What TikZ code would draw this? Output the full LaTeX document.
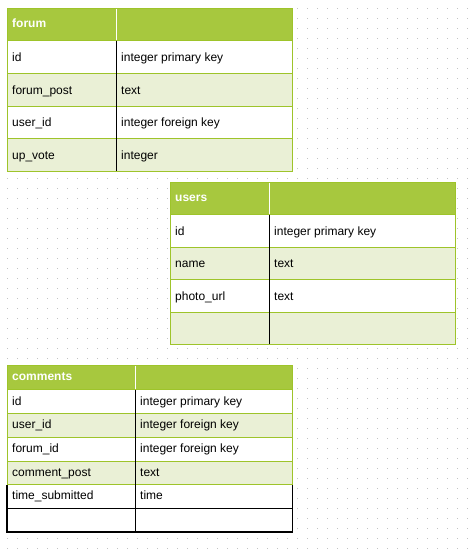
\documentclass[tikz,border=0pt]{standalone}
\usepackage{fontspec}
\setmainfont{Liberation Sans}
\definecolor{hdr}{RGB}{167,200,62}
\definecolor{lite}{RGB}{234,240,214}
\definecolor{edge}{RGB}{158,196,42}
\definecolor{dotc}{RGB}{195,195,195}
\tikzset{
  txt/.style={anchor=base west, inner sep=0pt, font=\fontsize{12}{14}\selectfont, text=black},
  htxt/.style={anchor=base west, inner sep=0pt, font=\fontsize{12}{14}\selectfont\bfseries, text=white},
  gline/.style={draw=edge, line width=1pt},
  kline/.style={draw=black, line width=1.1pt},
  wline/.style={draw=white, line width=1pt},
}
\begin{document}
\begin{tikzpicture}[x=1pt,y=-1pt]
\useasboundingbox (0,0) rectangle (470,555);
\fill[white] (0,0) rectangle (470,555);
\foreach \i in {0,...,46}{\foreach \j in {0,...,54}{\fill[dotc] ({7+10*\i},{8+10*\j}) rectangle +(1,1);}}

% ---------- forum ----------
\fill[hdr] (7,8) rectangle (292.5,40.7);
\fill[white] (7,40.7) rectangle (292.5,73.3);
\fill[lite] (7,73.3) rectangle (292.5,106);
\fill[white] (7,106) rectangle (292.5,138.7);
\fill[lite] (7,138.7) rectangle (292.5,171);
\foreach \y in {40.7,73.3,106,138.7} \draw[gline] (7,\y) -- (292.5,\y);
\draw[gline] (7,8) rectangle (292.5,171);
\draw[wline] (116.7,8.5) -- (116.7,40.2);
\draw[kline] (116.7,41.2) -- (116.7,170.5);
\node[htxt] (forumH) at (12,27.7) {forum};
\node[txt] (f1a) at (12,61.5) {id};
\node[txt] (f1b) at (121,61.5) {integer primary key};
\node[txt] (f2a) at (12,94.2) {forum\_post};
\node[txt] (f2b) at (121,94.2) {text};
\node[txt] (f3a) at (12,126.9) {user\_id};
\node[txt] (f3b) at (121,126.9) {integer foreign key};
\node[txt] (f4a) at (12,159.4) {up\_vote};
\node[txt] (f4b) at (121,159.4) {integer};

% ---------- users ----------
\fill[hdr] (170,182.3) rectangle (455.3,214.7);
\fill[white] (170,214.7) rectangle (455.3,247);
\fill[lite] (170,247) rectangle (455.3,279.5);
\fill[white] (170,279.5) rectangle (455.3,312);
\fill[lite] (170,312) rectangle (455.3,344.3);
\foreach \y in {214.7,247,279.5,312} \draw[gline] (170,\y) -- (455.3,\y);
\draw[gline] (170,182.3) rectangle (455.3,344.3);
\draw[wline] (269.3,182.8) -- (269.3,214.2);
\draw[kline] (269.3,215.2) -- (269.3,343.8);
\node[htxt] (usersH) at (175,201.7) {users};
\node[txt] (u1a) at (175,235.2) {id};
\node[txt] (u1b) at (274,235.2) {integer primary key};
\node[txt] (u2a) at (175,267.6) {name};
\node[txt] (u2b) at (274,267.6) {text};
\node[txt] (u3a) at (175,300.1) {photo\_url};
\node[txt] (u3b) at (274,300.1) {text};

% ---------- comments ----------
\fill[hdr] (7,365) rectangle (292.7,389.7);
\fill[white] (7,389.7) rectangle (292.7,413.5);
\fill[lite] (7,413.5) rectangle (292.7,437.3);
\fill[white] (7,437.3) rectangle (292.7,461);
\fill[lite] (7,461) rectangle (292.7,484.5);
\fill[white] (7,484.5) rectangle (292.7,532);
\draw[kline] (7,484.5) -- (7,532) -- (292.7,532) -- (292.7,484.5);
\draw[kline] (7,508.3) -- (292.7,508.3);
\foreach \y in {389.7,413.5,437.3,461} \draw[gline] (7,\y) -- (292.7,\y);
\draw[gline] (7,484.5) -- (7,365) -- (292.7,365) -- (292.7,484.5) -- cycle;
\draw[wline] (135.3,365.5) -- (135.3,389.2);
\draw[kline] (135.3,390.2) -- (135.3,532);
\node[htxt] (commH) at (12,380.7) {comments};
\node[txt] (c1a) at (12,405.1) {id};
\node[txt] (c1b) at (140,405.1) {integer primary key};
\node[txt] (c2a) at (12,428.9) {user\_id};
\node[txt] (c2b) at (140,428.9) {integer foreign key};
\node[txt] (c3a) at (12,452.7) {forum\_id};
\node[txt] (c3b) at (140,452.7) {integer foreign key};
\node[txt] (c4a) at (12,476.3) {comment\_post};
\node[txt] (c4b) at (140,476.3) {text};
\node[txt] (c5a) at (12,499.9) {time\_submitted};
\node[txt] (c5b) at (140,499.9) {time};
\end{tikzpicture}
\end{document}
